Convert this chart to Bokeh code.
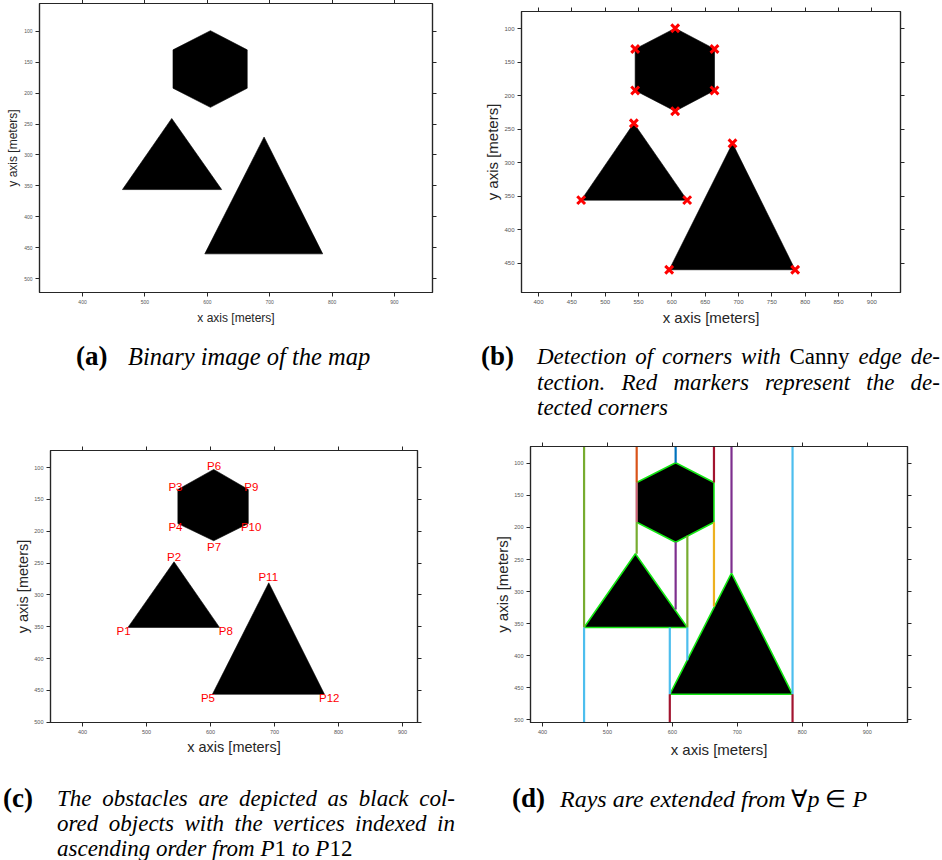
from bokeh.plotting import figure
from bokeh.models import Range1d, LinearAxis, SingleIntervalTicker, Div, ColumnDataSource
from bokeh.layouts import row, column
from bokeh.core.properties import value
from bokeh.embed import file_html
from bokeh.resources import INLINE

# ---------------- data ----------------
# obstacle corners (panels a, b, d)
hex_x = [605, 664, 664, 605, 545, 545]
hex_y = [99, 130, 192, 223, 192, 130]
tri1_x = [543, 623, 464]
tri1_y = [241, 356, 356]
tri2_x = [691, 785, 596]
tri2_y = [271, 460, 460]

# panel c: indexed vertices P1..P12
vert_names = ["P1", "P2", "P3", "P4", "P5", "P6", "P7", "P8", "P9", "P10", "P11", "P12"]
vert_x = [471, 543, 549, 549, 603, 605, 605, 614, 659, 659, 691, 778]
vert_y = [351, 248, 134.5, 188, 456, 103, 215, 351, 134.5, 188, 281, 456]
obstacles_c = [[0, 1, 7], [5, 8, 9, 6, 3, 2], [10, 11, 4]]

# panel d: vertical rays
map_top, map_bottom = 60, 520
ray_x = [464, 464, 545, 545, 545, 605, 605, 623, 623, 596, 596, 664, 664, 691, 785, 785]
ray_y0 = [356, 356, 130, 130, 192, 99, 223, 356, 356, 460, 460, 130, 192, 271, 460, 460]
ray_y1 = [map_top, map_bottom, map_top, 192, 241, map_top, 328, 213, 407, 356, map_bottom,
          map_top, 323, map_top, map_top, map_bottom]
ray_color = ["#77AC30", "#4DBEEE", "#D95319", "#D0607A", "#77AC30", "#0072BD", "#7E2F8E",
             "#77AC30", "#4DBEEE", "#4DBEEE", "#A2142F", "#A2142F", "#EDB120", "#7E2F8E",
             "#4DBEEE", "#A2142F"]

# label offsets (screen px) for panel c
lab_dx = [-4.4, 0, -2.4, -2.4, -4.5, 0.4, 0.4, 6.3, 3, 2.9, -0.5, 4.8]
lab_dy = [3.7, -5, -2.6, 3.7, 3.3, -3, 6, 3.7, -2.6, 3.7, -6, 3.3]

AX = "#262626"
FONT = "Liberation Sans"


def make_fig(w, h, xr, yr, mb, xint, yint, tick_fs, lab_fs, x_stand, y_stand, margin=0):
    p = figure(width=w, height=h, x_range=Range1d(*xr), y_range=Range1d(*yr),
               output_backend="svg", toolbar_location=None, tools="",
               min_border_left=mb[0], min_border_right=mb[1],
               min_border_top=mb[2], min_border_bottom=mb[3],
               background_fill_color="white", border_fill_color="white",
               outline_line_color=AX, outline_line_width=1.2)
    p.grid.visible = False
    p.xaxis.ticker = SingleIntervalTicker(interval=xint)
    p.yaxis.ticker = SingleIntervalTicker(interval=yint)
    p.xaxis.axis_label = "x axis [meters]"
    p.yaxis.axis_label = "y axis [meters]"
    for ax, st in ((p.xaxis[0], x_stand), (p.yaxis[0], y_stand)):
        ax.axis_line_color = AX
        ax.axis_line_width = 1.2
        ax.major_tick_line_color = AX
        ax.major_tick_out = 4
        ax.major_tick_in = 0
        ax.minor_tick_line_color = None
        ax.major_label_text_font = FONT
        ax.major_label_text_font_size = tick_fs
        ax.major_label_text_color = "#555555"
        ax.major_label_standoff = 3
        ax.axis_label_text_font = FONT
        ax.axis_label_text_font_size = lab_fs
        ax.axis_label_text_font_style = "normal"
        ax.axis_label_text_color = AX
        ax.axis_label_standoff = st
    for side, iv in (("above", xint), ("right", yint)):
        ax = LinearAxis(ticker=SingleIntervalTicker(interval=iv),
                        major_label_text_font_size="1px", major_label_standoff=0,
                        major_label_text_color=None,
                        axis_line_color=AX, axis_line_width=1.2,
                        major_tick_line_color=AX, major_tick_out=4, major_tick_in=0,
                        minor_tick_line_color=None)
        p.add_layout(ax, side)
    p.margin = margin
    return p


def obstacles(p, line_color="black", line_width=0.6):
    p.patches([hex_x, tri1_x, tri2_x], [hex_y, tri1_y, tri2_y],
              fill_color="black", line_color=line_color, line_width=line_width)


# ---- (a)
pa = make_fig(470, 338, (331, 961), (522.5, 55), (39, 38, 2, 37), 100, 50, "5px", "12px", 4, 1,
              margin=(-8, 0, 0, 0))
obstacles(pa)

# ---- (b)
pb = make_fig(472, 330, (374.5, 943), (494, 74), (51, 42, 11, 38), 50, 50, "6px", "15px", 2, 0)
obstacles(pb)
pb.scatter(hex_x + tri1_x + tri2_x, hex_y + tri1_y + tri2_y, marker="x", size=11,
           line_color="red", line_width=3)

# ---- (c)
pc = make_fig(470, 320, (350, 923.4), (500.3, 73.3), (50, 53, 10, 38), 100, 50, "5.5px", "14.5px",
              2, 0)
pc.patches([[vert_x[i] for i in ob] for ob in obstacles_c],
           [[vert_y[i] for i in ob] for ob in obstacles_c],
           fill_color="black", line_color="black", line_width=0.6)
sx = 367 / 573.4
sy = 272 / 427.0
src_c = ColumnDataSource(dict(
    x=[vx + dx / sx for vx, dx in zip(vert_x, lab_dx)],
    y=[vy + dy / sy for vy, dy in zip(vert_y, lab_dy)],
    t=vert_names))
pc.text("x", "y", "t", source=src_c, text_color="red", text_font=value(FONT),
        text_font_size="11.5px", text_align="center", text_baseline="middle")

# ---- (d)
pd = make_fig(472, 324, (381.5, 962), (504, 73.8), (60, 35, 6, 34), 100, 50, "5.5px", "15px", 4, 0,
              margin=(-4, 0, 0, 0))
obstacles(pd, line_color="#14e614", line_width=1.6)
src_r = ColumnDataSource(dict(x0=ray_x, y0=ray_y0, x1=ray_x, y1=ray_y1, c=ray_color))
pd.segment("x0", "y0", "x1", "y1", source=src_r, line_color="c", line_width=2.2)


# ---- captions
def caption(w, h, label, lx, tx, tw, lines, y0, dy, justify, fs=23):
    out = [f'<div style="position:relative;width:{w}px;height:{h}px;'
           f'font-family:\'Liberation Serif\',serif;color:#000;">']
    out.append(f'<div style="position:absolute;left:{lx}px;top:{y0 - 16}px;line-height:30px;'
               f'font-size:27px;font-weight:bold;white-space:nowrap;">{label}</div>')
    for i, ln in enumerate(lines):
        j = "justify" if (justify and i < len(lines) - 1) else "left"
        out.append(f'<div style="position:absolute;left:{tx}px;top:{y0 + i * dy - 15}px;'
                   f'width:{tw}px;line-height:30px;font-size:{fs}px;font-style:italic;'
                   f'text-align:{j};text-align-last:{j};">{ln}</div>')
    out.append('</div>')
    return Div(text="".join(out), width=w, height=h, margin=0)


up = '<span style="font-style:normal">'
cap_a = caption(470, 110, "(a)", 76, 128, 320, ["Binary image of the map"], 27, 25.5, False, fs=24.5)
cap_b = caption(472, 110, "(b)", 11, 67, 403,
                [f"Detection of corners with {up}Canny</span> edge de-",
                 "tection. Red markers represent the de-",
                 "tected corners"], 27, 25.5, True)
cap_c = caption(470, 100, "(c)", 3, 57, 398,
                ["The obstacles are depicted as black col-",
                 "ored objects with the vertices indexed in",
                 f"ascending order from <i>P</i>{up}1</span> to <i>P</i>{up}12</span>"],
                39, 25, True)
cap_d = caption(472, 100, "(d)", 42, 90, 370,
                [f"Rays are extended from {up}&forall;</span><i>p</i> {up}&isin;</span> <i>P</i>"],
                39, 25, False, fs=24)

layout = column(row(pa, pb, margin=0), row(cap_a, cap_b, margin=0),
                row(pc, pd, margin=0), row(cap_c, cap_d, margin=0),
                margin=0)

open("out.html", "w").write(file_html(layout, INLINE))
